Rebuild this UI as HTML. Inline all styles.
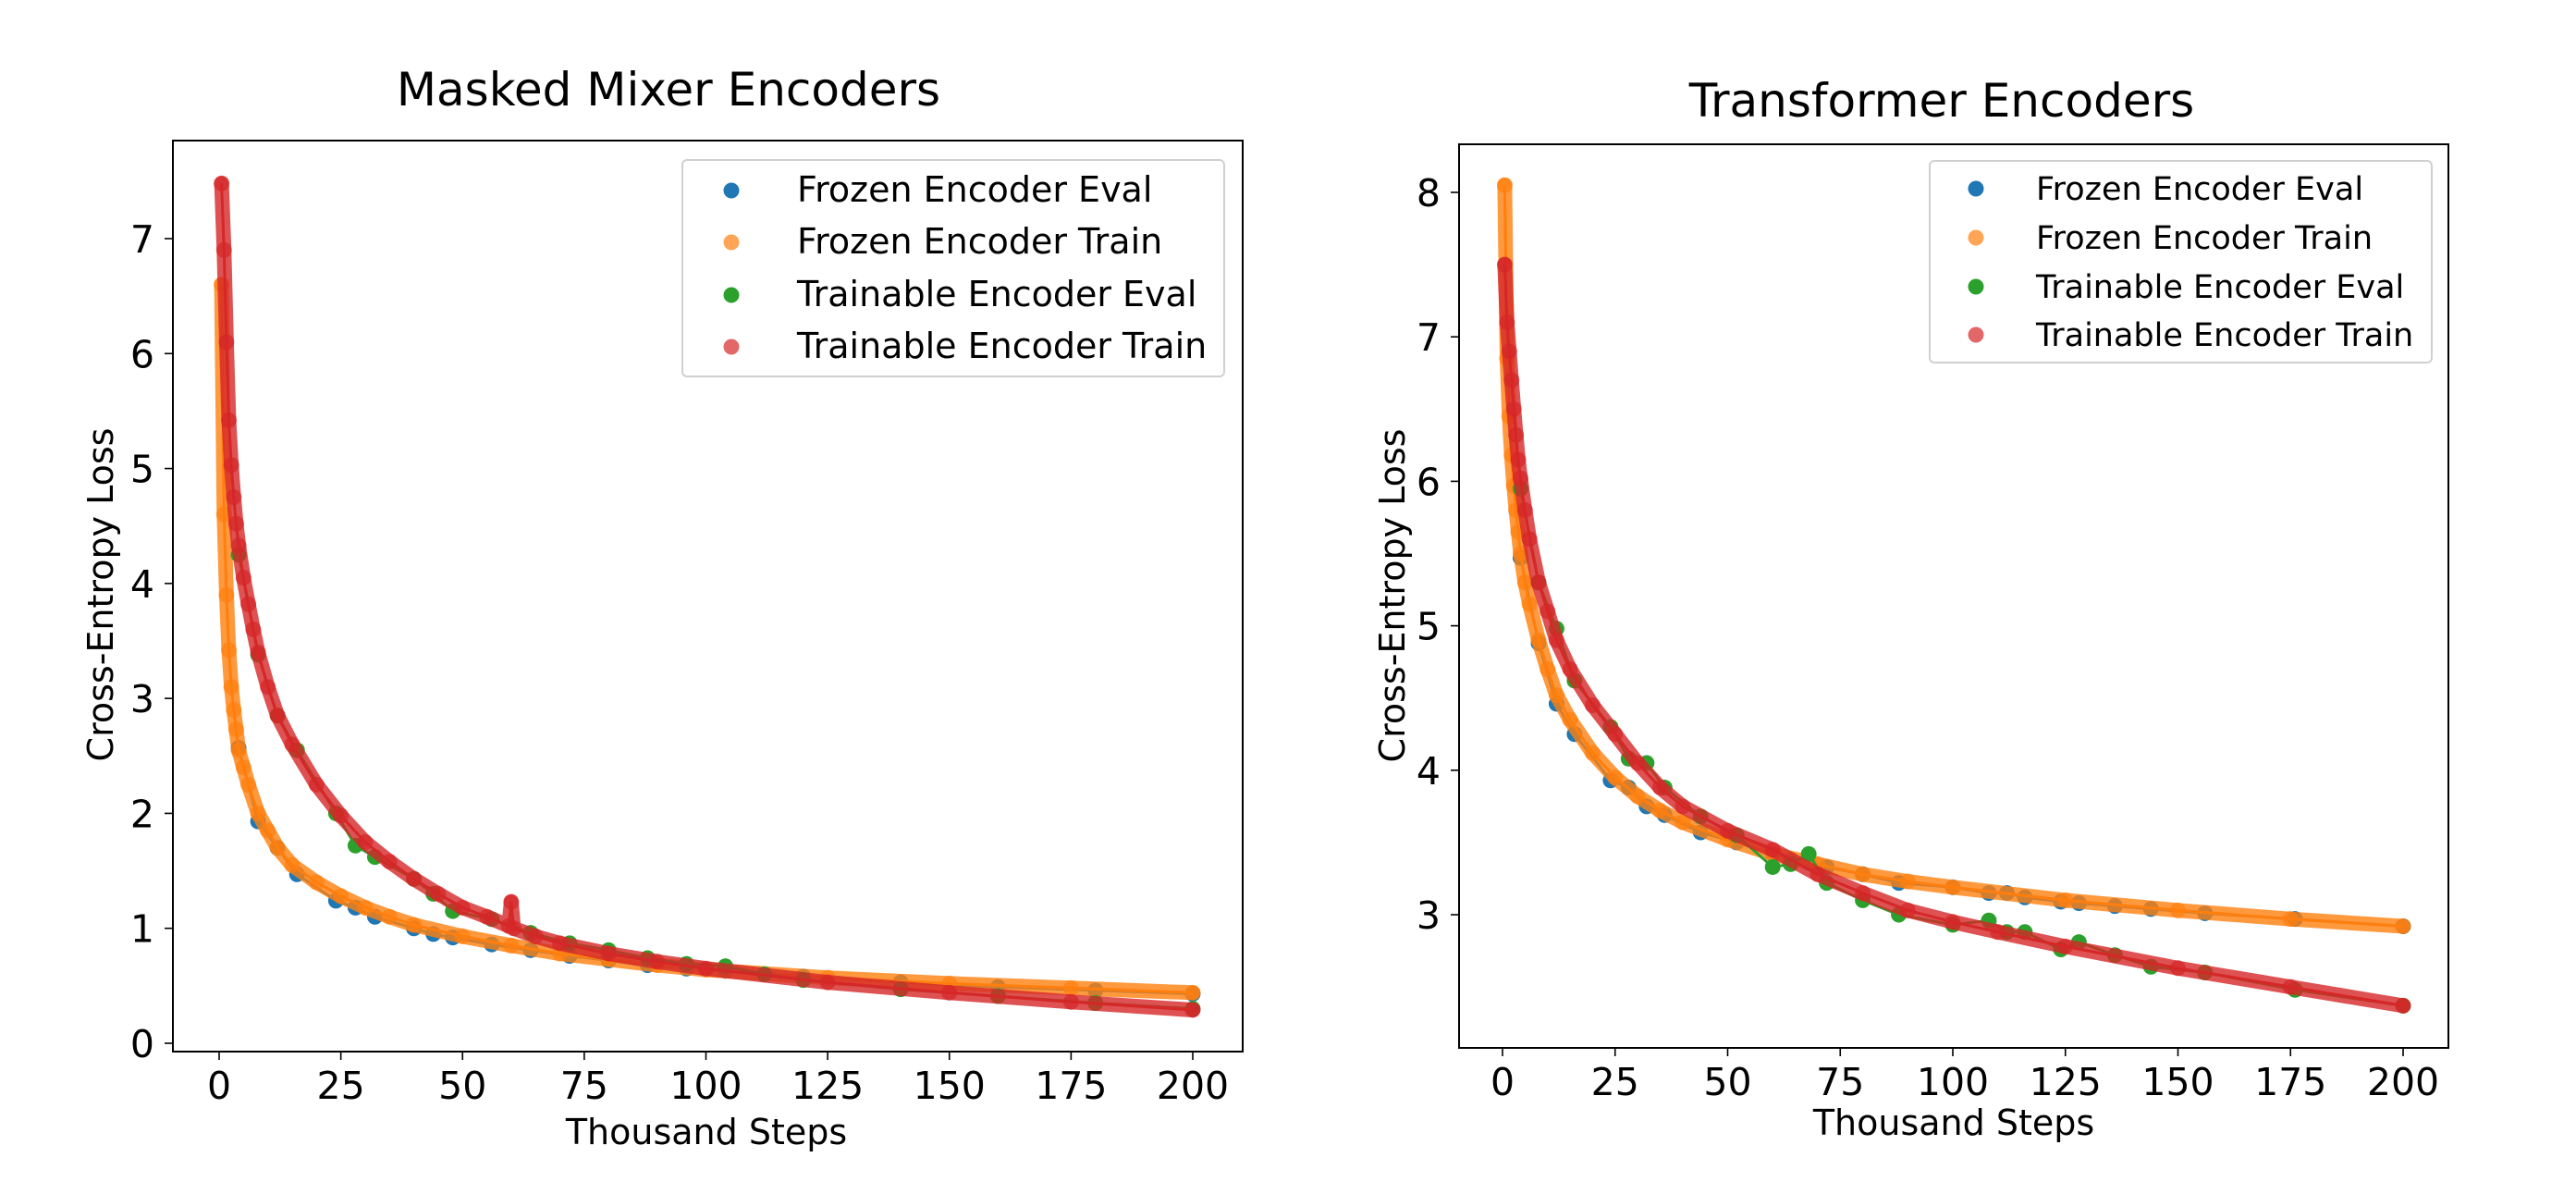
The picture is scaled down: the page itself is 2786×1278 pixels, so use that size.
<!DOCTYPE html>
<html><head><meta charset="utf-8"><style>
body{margin:0;background:#fff;overflow:hidden}
svg{display:block;font-family:"DejaVu Sans","Liberation Sans",sans-serif}
</style></head><body>
<svg id="c" width="2786" height="1278" viewBox="0 0 2786 1278"></svg>
<script>
// ---- Left panel data (Masked Mixer) ----
const mmStepsA=[0.5,1,1.5,2,2.5,3,3.5,4,5,6,8,10,12,15,20,25,30,35,40,50,60,70,80,90,100,125,150,175,200];
const mmFrozenTrain=[6.6,4.6,3.9,3.42,3.1,2.9,2.73,2.55,2.4,2.25,2.0,1.85,1.7,1.55,1.4,1.28,1.18,1.1,1.03,0.93,0.85,0.78,0.73,0.68,0.64,0.57,0.52,0.48,0.44];
const mmEvalSteps=[4,8,12,16,24,28,32,40,44,48,56,64,72,80,88,96,104,112,120,140,160,180,200];
const mmFrozenEval=[2.57,1.93,1.7,1.47,1.24,1.18,1.1,1.0,0.95,0.92,0.86,0.81,0.76,0.72,0.68,0.65,0.63,0.6,0.58,0.53,0.49,0.46,0.43];
const mmTrainEval=[4.25,3.38,2.85,2.55,2.0,1.72,1.62,1.43,1.3,1.15,1.08,0.96,0.87,0.81,0.74,0.69,0.67,0.6,0.55,0.47,0.41,0.35,0.3];
const mmStepsB=[0.5,1,1.5,2,2.5,3,3.5,4,5,6,7,8,10,12,15,20,25,30,35,40,45,50,55,59.5,60,60.5,65,70,80,90,100,125,150,175,200];
const mmTrainTrain=[7.48,6.9,6.1,5.42,5.03,4.75,4.52,4.33,4.05,3.82,3.6,3.4,3.1,2.85,2.6,2.25,1.98,1.75,1.58,1.43,1.3,1.18,1.1,1.02,1.23,1.0,0.93,0.87,0.78,0.71,0.65,0.53,0.44,0.36,0.29];
const mmYTicks=[0,1,2,3,4,5,6,7];
// ---- Right panel data (Transformer) ----
const trStepsA=[0.5,1,1.5,2,2.5,3,3.5,4,5,6,8,10,12,15,20,25,30,35,40,50,60,70,80,90,100,125,150,175,200];
const trFrozenTrain=[8.05,6.85,6.45,6.18,5.97,5.8,5.65,5.5,5.3,5.15,4.9,4.7,4.52,4.35,4.12,3.95,3.82,3.72,3.64,3.52,3.42,3.35,3.28,3.23,3.19,3.1,3.03,2.97,2.92];
const trEvalSteps=[4,8,12,16,24,28,32,36,44,52,60,64,68,72,80,88,100,108,112,116,124,128,136,144,156,176,200];
const trFrozenEval=[5.47,4.88,4.46,4.25,3.93,3.88,3.75,3.69,3.57,3.5,3.42,3.38,3.36,3.33,3.28,3.22,3.19,3.15,3.15,3.12,3.09,3.08,3.06,3.04,3.01,2.97,2.92];
const trTrainEval=[5.95,5.3,4.98,4.62,4.3,4.08,4.05,3.88,3.68,3.55,3.33,3.35,3.42,3.22,3.1,3.0,2.93,2.96,2.88,2.88,2.76,2.81,2.72,2.64,2.6,2.48,2.37];
const trStepsB=[0.5,1,1.5,2,2.5,3,3.5,4,5,6,8,10,12,15,20,25,30,35,40,50,60,70,80,90,100,110,125,150,175,200];
const trTrainTrain=[7.5,7.1,6.9,6.7,6.5,6.32,6.15,6.02,5.8,5.6,5.3,5.1,4.9,4.7,4.45,4.25,4.05,3.88,3.75,3.58,3.45,3.28,3.15,3.03,2.95,2.88,2.78,2.63,2.5,2.37];
const trYTicks=[3,4,5,6,7,8];
const xTicks=[0,25,50,75,100,125,150,175,200];
const legendLabels=["Frozen Encoder Eval","Frozen Encoder Train","Trainable Encoder Eval","Trainable Encoder Train"];

const NS="http://www.w3.org/2000/svg";
const svg=document.getElementById('c');
function mk(tag,attrs,parent,text){const e=document.createElementNS(NS,tag);for(const k in attrs)e.setAttribute(k,attrs[k]);if(text!==undefined)e.textContent=text;(parent||svg).appendChild(e);return e;}
const COL={blue:"#1f77b4",orange:"#ff7f0e",green:"#2ca02c",red:"#d62728"};

function panel(p){
  const g=mk('g',{});
  
  
  const xs=v=>p.x0px+(v-0)*(p.x200px-p.x0px)/200;
  const ys=v=>p.yApx+(v-p.yA)*(p.yBpx-p.yApx)/(p.yB-p.yA);
  const t=mk('text',{x:p.titleX,y:p.titleY+18,'font-size':50,'text-anchor':'middle'},g,p.title);
  
  
  function series(xsArr,ysArr,color,band,alpha,nm){
    const sg=mk('g',{},g);
    
    
    const pts=xsArr.map((x,i)=>xs(x).toFixed(1)+','+ys(ysArr[i]).toFixed(1)).join(' ');
    if(band) mk('polyline',{points:pts,fill:'none',stroke:color,'stroke-width':band,'stroke-opacity':0.8,'stroke-linejoin':'round','stroke-linecap':'round'},sg);
    mk('polyline',{points:pts,fill:'none',stroke:color,'stroke-width':3,'stroke-linejoin':'round'},sg);
    xsArr.forEach((x,i)=>{
      const c=mk('circle',{cx:xs(x),cy:ys(ysArr[i]),r:8.5,fill:color,'fill-opacity':alpha},sg);
      
      
    });
  }
  series(p.evalSteps,p.frozenEval,COL.blue,0,1,'frozen-eval-series');
  series(p.stepsA,p.frozenTrain,COL.orange,16,0.7,'frozen-train-series');
  series(p.evalSteps,p.trainEval,COL.green,0,1,'trainable-eval-series');
  series(p.stepsB,p.trainTrain,COL.red,16,0.7,'trainable-train-series');
  const fr=mk('rect',{x:p.bx0,y:p.by0,width:p.bx1-p.bx0,height:p.by1-p.by0,fill:'none',stroke:'#000','stroke-width':2},g);
  
  
  xTicks.forEach(v=>{
    const x=xs(v);
    mk('line',{x1:x,y1:p.by1,x2:x,y2:p.by1+9,stroke:'#000','stroke-width':1.6},g);
    const tl=mk('text',{x:x,y:p.by1+51,'font-size':41,'text-anchor':'middle'},g,String(v));
    
    
  });
  p.yTicks.forEach(v=>{
    const y=ys(v);
    mk('line',{x1:p.bx0,y1:y,x2:p.bx0-9,y2:y,stroke:'#000','stroke-width':1.6},g);
    const tl=mk('text',{x:p.bx0-20,y:y+15,'font-size':41,'text-anchor':'end'},g,String(v));
    
    
  });
  const xl=mk('text',{x:p.xlX,y:p.xlY+13,'font-size':38,'text-anchor':'middle'},g,'Thousand Steps');
  
  
  const yl=mk('text',{x:0,y:0,'font-size':38,'text-anchor':'middle',transform:`translate(${p.ylX},${p.ylY}) rotate(-90)`},g,'Cross-Entropy Loss');
  
  
  const lg=mk('g',{},g);
  
  
  mk('rect',{x:p.lx0,y:p.ly0,width:p.lx1-p.lx0,height:p.ly1-p.ly0,rx:5,fill:'#fff','fill-opacity':0.8,stroke:'#d0d0d0','stroke-width':2},lg);
  const cols=[COL.blue,COL.orange,COL.green,COL.red];
  legendLabels.forEach((lab,i)=>{
    const y=p.legY[i];
    const e=mk('g',{},lg);
    
    
    mk('circle',{cx:p.lmX,cy:y,r:8.5,fill:cols[i],'fill-opacity':i%2?0.7:1},e);
    mk('text',{x:p.ltX,y:y+12,'font-size':p.legFont},e,lab);
  });
}
panel({name:'masked-mixer-panel',title:'Masked Mixer Encoders',titleX:723,titleY:96,
  bx0:187,bx1:1344,by0:152,by1:1137,x0px:237,x200px:1290,yA:0,yApx:1128,yB:7,yBpx:258,
  yTicks:mmYTicks,stepsA:mmStepsA,frozenTrain:mmFrozenTrain,evalSteps:mmEvalSteps,frozenEval:mmFrozenEval,trainEval:mmTrainEval,stepsB:mmStepsB,trainTrain:mmTrainTrain,
  xlX:764,xlY:1224,ylX:122,ylY:643,lx0:738,lx1:1324,ly0:173,ly1:407,legY:[206,262,319,375],lmX:791,ltX:862,legFont:38});
panel({name:'transformer-panel',title:'Transformer Encoders',titleX:2100,titleY:108,
  bx0:1578,bx1:2648,by0:156,by1:1133,x0px:1625,x200px:2599,yA:3,yApx:989,yB:8,yBpx:208,
  yTicks:trYTicks,stepsA:trStepsA,frozenTrain:trFrozenTrain,evalSteps:trEvalSteps,frozenEval:trFrozenEval,trainEval:trTrainEval,stepsB:trStepsB,trainTrain:trTrainTrain,
  xlX:2113,xlY:1214,ylX:1519,ylY:644,lx0:2087,lx1:2630,ly0:174,ly1:392,legY:[204,257,310,362],lmX:2137,ltX:2202,legFont:35});
</script>
</body></html>
